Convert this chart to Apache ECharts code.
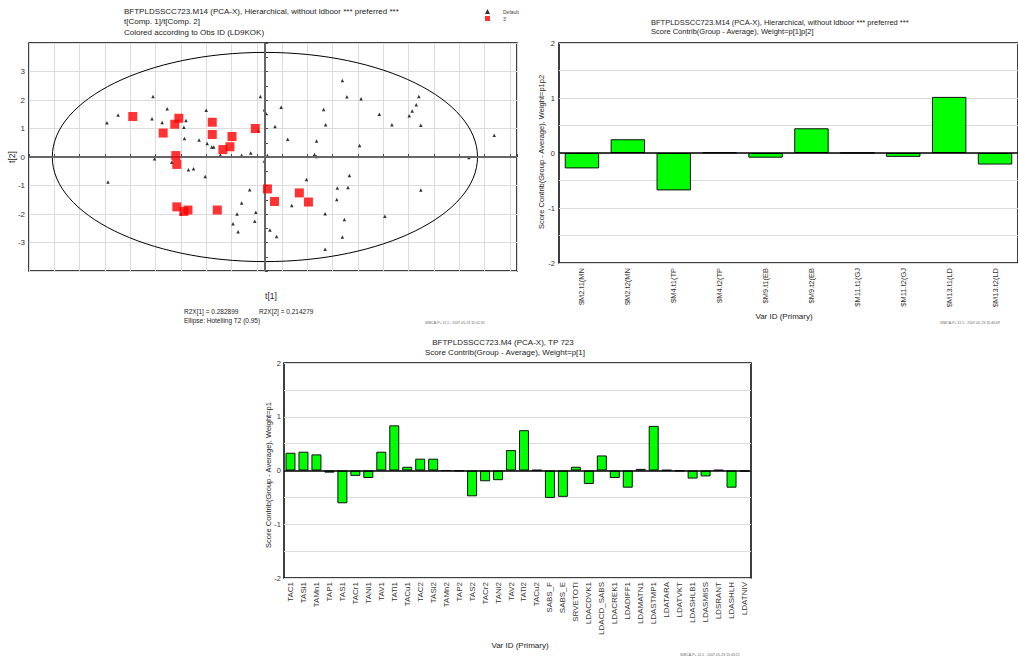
<!DOCTYPE html>
<html><head><meta charset="utf-8">
<script src="https://cdn.jsdelivr.net/npm/echarts@6/dist/echarts.min.js"></script>
<style>html,body{margin:0;padding:0;background:#fff}#c{width:1018px;height:657px}</style>
</head><body><div id="c"></div>
<script>
// ---- Scatter (score plot) data ----
var defaultPoints = [
 [-3.12,1.20],[-2.90,1.47],[-2.21,2.12],[-1.93,1.69],[-2.23,1.34],[-2.03,1.21],[-1.56,1.28],[-1.60,1.04],
 [-1.59,0.65],[-1.30,0.60],[-1.16,1.64],[-1.14,0.47],[-1.05,0.35],[-1.01,0.35],[-0.88,0.07],[-2.18,-0.06],
 [-1.84,-0.18],[-1.51,-0.45],[-1.41,-0.41],[-1.18,-0.68],[-3.10,-0.88],[-0.46,0.06],[-0.28,0.14],[-0.13,0.92],
 [-0.09,2.12],[-0.01,1.66],[0.02,1.53],[0.20,1.07],[0.05,0.05],[-0.01,-0.14],[-0.30,-1.15],[-0.46,-1.61],
 [-0.55,-2.00],[-0.18,-1.94],[-0.20,-2.25],[-0.63,-2.34],[-0.53,-2.62],[-1.66,-1.99],[0.10,-2.56],[0.23,-2.79],
 [0.32,1.75],[0.45,0.62],[1.53,2.68],[1.62,2.11],[1.90,2.04],[1.16,1.67],[1.20,1.13],[1.02,0.56],
 [0.98,0.09],[1.02,0.02],[1.87,0.40],[2.26,1.50],[2.51,1.13],[2.85,1.45],[2.91,1.61],[2.99,1.83],
 [3.04,2.12],[3.08,1.11],[4.03,-0.02],[4.53,0.76],[0.82,-0.79],[1.67,-0.65],[1.43,-1.09],[1.64,-1.07],
 [1.42,-1.49],[0.53,-1.70],[1.19,-1.99],[1.57,-2.19],[1.53,-2.81],[1.19,-3.24],[2.37,-2.08],[3.08,-1.16]
];
var redPoints = [
 [-2.61,1.42],[-1.70,1.36],[-1.78,1.15],[-2.01,0.84],[-1.04,1.22],[-1.04,0.79],[-0.65,0.72],[-0.69,0.36],
 [-0.83,0.26],[-0.19,1.00],[-1.76,0.05],[-1.74,-0.26],[0.05,-1.12],[0.19,-1.56],[-1.74,-1.75],[-1.52,-1.86],
 [-1.60,-1.91],[-0.94,-1.86],[0.68,-1.26],[0.86,-1.58]
];
var ellipseSemiAxes = [4.2, 3.67]; // Hotelling T2 (0.95)

// ---- Top-right contribution chart ----
var trCategories = ['$M2.t1(MN','$M2.t2(MN','$M4.t1(TP','$M4.t2(TP','$M9.t1(EB','$M9.t2(EB','$M11.t1(GJ','$M11.t2(GJ','$M13.t1(LD','$M13.t2(LD'];
var trValues = [-0.28, 0.25, -0.68, 0.01, -0.085, 0.45, 0.005, -0.07, 1.02, -0.21];

// ---- Bottom contribution chart ----
var btCategories = ['TAC1','TASi1','TAMn1','TAP1','TAS1','TACr1','TANi1','TAV1','TATi1','TACu1','TAC2','TASi2','TAMn2','TAP2','TAS2','TACr2','TANi2','TAV2','TATi2','TACu2','SABS_F','SABS_E','SRVETOTI','LDACDVK1','LDACD_SABS','LDACREK1','LDADIFF1','LDAMATN1','LDASTMP1','LDATARA','LDATVKT','LDASHLB1','LDASMISS','LDSRANT','LDASHLH','LDATNIV'];
var btValues = [0.33,0.35,0.30,-0.04,-0.61,-0.10,-0.14,0.35,0.84,0.07,0.22,0.22,0.0,-0.01,-0.48,-0.20,-0.18,0.38,0.75,0.01,-0.51,-0.49,0.07,-0.25,0.28,-0.14,-0.32,0.03,0.83,0.01,-0.01,-0.15,-0.11,0.01,-0.32,-0.02];

var FONT = '"Liberation Sans", Arial, sans-serif';
var TXT = '#222';
function isInt(v){ return Math.abs(v - Math.round(v)) < 1e-6; }
function txt(x, y, s, size, opts){
  opts = opts || {};
  return {type:'text', x:x, y:y, rotation: opts.rot || 0, silent:true,
    style:{text:s, fill: opts.color || TXT, font: (size) + 'px ' + FONT, textAlign: opts.align || 'left', textVerticalAlign: 'middle'}};
}

var chart = echarts.init(document.getElementById('c'), null, {renderer:'svg'});
var barItem = {color:'#00ff00', borderColor:'#111', borderWidth:1};
var gridLine = {show:true, lineStyle:{color:'#dcdcdc', width:1}};

chart.setOption({
  animation:false,
  textStyle:{fontFamily:FONT},
  legend:{
    left:480, top:4, orient:'vertical', itemWidth:5, itemHeight:5, itemGap:2,
    textStyle:{fontSize:5, color:'#444', padding:[0,0,0,8]},
    data:[{name:'Default', icon:'triangle', itemStyle:{color:'#000'}}, {name:"3'", icon:'rect', itemStyle:{color:'#ff0000'}}]
  },
  grid:[
    {left:29, top:43, width:488, height:228, show:true, borderColor:'#000', borderWidth:1.5, backgroundColor:'transparent'},
    {left:559, top:43, right:-7, height:220, show:true, borderColor:'#000', borderWidth:1.5, backgroundColor:'transparent'},
    {left:284, top:363, width:467, height:215, show:true, borderColor:'#000', borderWidth:1.5, backgroundColor:'transparent'}
  ],
  xAxis:[
    {gridIndex:0, type:'value', min:-4.66, max:4.98, interval:0.5,
     axisLine:{show:false}, axisTick:{show:true, inside:true, length:3, lineStyle:{color:'#444'}},
     axisLabel:{fontSize:8, color:'#333', margin:6, showMinLabel:true, showMaxLabel:true,
       formatter:function(v){ return (isInt(v) && Math.abs(v) <= 4.5) ? String(Math.round(v)) : ''; }},
     splitLine:gridLine},
    {gridIndex:1, type:'category', data:trCategories, position:'bottom',
     axisLine:{show:false, onZero:false}, axisTick:{show:false},
     axisLabel:{rotate:90, fontSize:7.5, color:'#333', margin:5, interval:0}, splitLine:{show:false}},
    {gridIndex:2, type:'category', data:btCategories, position:'bottom',
     axisLine:{show:false, onZero:false}, axisTick:{show:false},
     axisLabel:{rotate:90, fontSize:8, color:'#333', margin:4, interval:0}, splitLine:{show:false}}
  ],
  yAxis:[
    {gridIndex:0, type:'value', min:-4, max:4, interval:1,
     axisLine:{show:false}, axisTick:{show:true, inside:true, length:3, lineStyle:{color:'#444'}},
     minorTick:{show:true, splitNumber:2, length:3, lineStyle:{color:'#444'}},
     axisLabel:{fontSize:8, color:'#333', margin:4,
       formatter:function(v){ return Math.abs(v) < 3.5 ? String(Math.round(v)) : ''; }},
     splitLine:gridLine},
    {gridIndex:1, type:'value', min:-2, max:2, interval:0.5,
     axisLine:{show:false}, axisTick:{show:false},
     axisLabel:{fontSize:7.5, color:'#333', margin:4,
       formatter:function(v){ return isInt(v) ? String(Math.round(v)) : ''; }},
     splitLine:gridLine},
    {gridIndex:2, type:'value', min:-2, max:2, interval:0.5,
     axisLine:{show:false}, axisTick:{show:false},
     axisLabel:{fontSize:7.5, color:'#333', margin:3,
       formatter:function(v){ return isInt(v) ? String(Math.round(v)) : ''; }},
     splitLine:gridLine}
  ],
  series:[
    {type:'custom', xAxisIndex:0, yAxisIndex:0, silent:true, z:3, data:[[0,0]],
     renderItem:function(params, api){
       var c = api.coord([0,0]);
       var s = api.size(ellipseSemiAxes);
       return {type:'ellipse', shape:{cx:c[0], cy:c[1], rx:s[0], ry:s[1]}, style:{fill:'none', stroke:'#000', lineWidth:1}};
     },
     markLine:{silent:true, symbol:'none', label:{show:false}, lineStyle:{color:'#666', width:2, type:'solid'},
       data:[{xAxis:0},{yAxis:0}]}
    },
    {name:'Default', type:'scatter', xAxisIndex:0, yAxisIndex:0, data:defaultPoints, symbol:'triangle', symbolSize:3.5,
     itemStyle:{color:'#000'}, z:4},
    {name:"3'", type:'scatter', xAxisIndex:0, yAxisIndex:0, data:redPoints, symbol:'rect', symbolSize:9,
     itemStyle:{color:'#ff0000'}, z:5},
    {type:'bar', xAxisIndex:1, yAxisIndex:1, data:trValues, barCategoryGap:'25%', itemStyle:barItem, z:3,
     markLine:{silent:true, symbol:'none', label:{show:false}, lineStyle:{color:'#000', width:1.5, type:'solid'}, data:[{yAxis:0}]}},
    {type:'bar', xAxisIndex:2, yAxisIndex:2, data:btValues, barCategoryGap:'23%', itemStyle:barItem, z:3,
     markLine:{silent:true, symbol:'none', label:{show:false}, lineStyle:{color:'#000', width:1.5, type:'solid'}, data:[{yAxis:0}]}}
  ],
  graphic:[
    // scatter titles & notes
    txt(124, 11, 'BFTPLDSSCC723.M14 (PCA-X), Hierarchical, without ldboor *** preferred ***', 8),
    txt(124, 21.5, 't[Comp. 1]/t[Comp. 2]', 8),
    txt(124, 32, 'Colored according to Obs ID (LD9KOK)', 8),
    txt(271, 296, 't[1]', 8.5, {align:'center'}),
    txt(12, 157, 't[2]', 8.5, {align:'center', rot:Math.PI/2}),
    txt(184, 311, 'R2X[1] = 0.282899', 6.5),
    txt(259, 311, 'R2X[2] = 0.214279', 6.5),
    txt(184, 320, 'Ellipse: Hotelling T2 (0.95)', 6.5),
    txt(425, 323, 'SIMCA-P+ 11.5 - 2007-05-23 15:41:35', 3.5, {color:'#666'}),
    // top-right titles
    txt(651, 22, 'BFTPLDSSCC723.M14 (PCA-X), Hierarchical, without ldboor *** preferred ***', 7.5),
    txt(651, 31, 'Score Contrib(Group - Average), Weight=p[1]p[2]', 7.5),
    txt(541, 152, 'Score Contrib(Group - Average), Weight=p1p2', 7.5, {align:'center', rot:Math.PI/2}),
    txt(784, 316, 'Var ID (Primary)', 8, {align:'center'}),
    txt(940, 323, 'SIMCA-P+ 11.5 - 2007-05-23 15:46:49', 3.5, {color:'#666'}),
    // bottom titles
    txt(503, 342, 'BFTPLDSSCC723.M4 (PCA-X), TP 723', 8, {align:'center'}),
    txt(505, 352.5, 'Score Contrib(Group - Average), Weight=p[1]', 8, {align:'center'}),
    txt(268, 475, 'Score Contrib(Group - Average), Weight=p1', 7.5, {align:'center', rot:Math.PI/2}),
    txt(520, 645, 'Var ID (Primary)', 8, {align:'center'}),
    txt(680, 655, 'SIMCA-P+ 11.5 - 2007-05-23 15:43:21', 3.5, {color:'#666'})
  ]
});
</script>
</body></html>
